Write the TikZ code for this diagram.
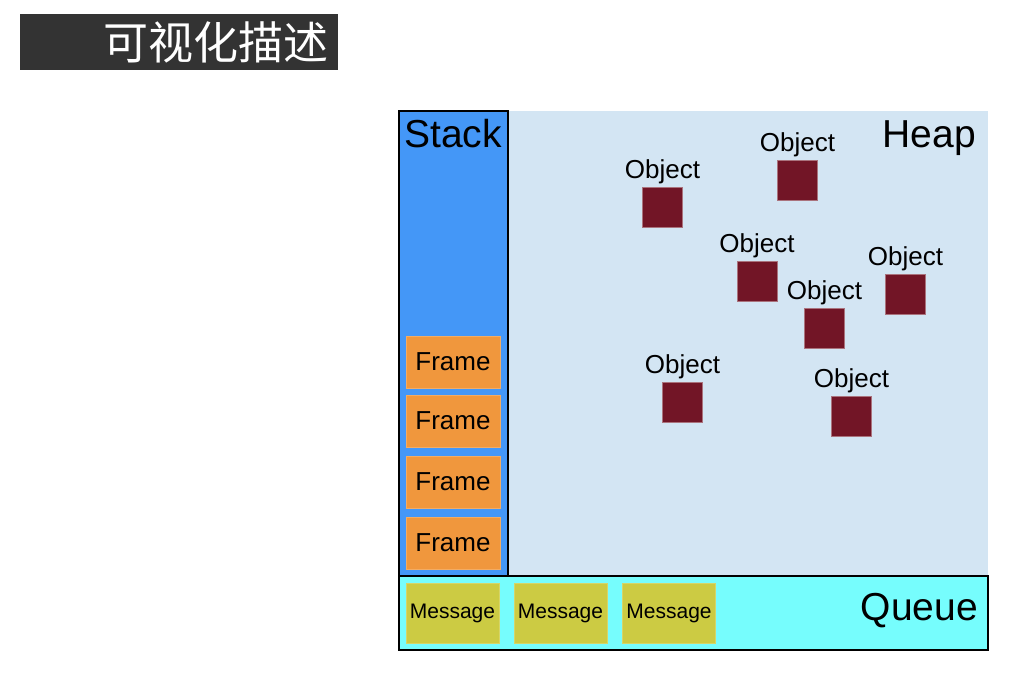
\documentclass[tikz,border=0pt]{standalone}
\usepackage{fontspec}
\setmainfont{Liberation Sans}
\newfontfamily\cjk{Noto Sans CJK SC}
\definecolor{titlebg}{HTML}{333333}
\definecolor{stackblue}{HTML}{4497F7}
\definecolor{heapblue}{HTML}{D3E5F3}
\definecolor{queuecyan}{HTML}{76FDFD}
\definecolor{framefill}{HTML}{F0973D}
\definecolor{msgfill}{HTML}{CCCB43}
\definecolor{objfill}{HTML}{721526}
\tikzset{
  area/.style={draw=black, line width=2pt},
  framebox/.style={fill=framefill, draw=framefill!80!white, line width=0.5pt, minimum width=94pt, minimum height=52pt, inner sep=0pt, font=\fontsize{26}{30}\selectfont},
  msgbox/.style={fill=msgfill, draw=msgfill!80!white, line width=0.5pt, minimum width=93pt, minimum height=60pt, inner sep=0pt, font=\fontsize{21}{25}\selectfont},
  objbox/.style={fill=objfill, draw=objfill!60!white, line width=0.6pt, minimum width=40pt, minimum height=40pt, inner sep=0pt},
  objlabel/.style={anchor=south, inner sep=0pt, yshift=3pt, font=\fontsize{26}{30}\selectfont},
  bigtext/.style={inner sep=0pt, font=\fontsize{39}{46}\selectfont}
}
\begin{document}
\begin{tikzpicture}[x=1pt, y=-1pt]
\useasboundingbox (0,0) rectangle (1032,676);
% title
\node[fill=titlebg, minimum width=318pt, minimum height=56pt, inner sep=0pt, anchor=north west] (titlebox) at (20,14) {};
\node[text=white, inner sep=0pt, font=\cjk\fontsize{45}{50}\selectfont] (title) at (216,42) {可视化描述};
% heap
\fill[heapblue] (508,111) rectangle (988,576);
\node[coordinate] (heap) at (748,343) {};
% stack
\draw[area, fill=stackblue] (399,111) rectangle (508,576);
\node[bigtext] (stacklabel) at (453,134) {Stack};
\node[bigtext, anchor=east] (heaplabel) at (976,138) {Heap};
% queue
\draw[area, fill=queuecyan] (399,576) rectangle (988,650);
\node[bigtext, anchor=east] (queuelabel) at (978,611) {Queue};
% frames
\node[framebox] (f1) at (453,362) {Frame};
\node[framebox] (f2) at (453,421) {Frame};
\node[framebox] (f3) at (453,482) {Frame};
\node[framebox] (f4) at (453,543) {Frame};
% messages
\node[msgbox] (m1) at (452.5,613) {Message};
\node[msgbox] (m2) at (560.5,613) {Message};
\node[msgbox] (m3) at (669,613) {Message};
% objects
\node[objbox] (o1) at (662.5,207) {};
\node[objlabel] (l1) at (o1.north) {Object};
\node[objbox] (o2) at (797.5,180) {};
\node[objlabel] (l2) at (o2.north) {Object};
\node[objbox] (o3) at (757,281.5) {};
\node[objlabel] (l3) at (o3.north) {Object};
\node[objbox] (o4) at (905.5,294.5) {};
\node[objlabel] (l4) at (o4.north) {Object};
\node[objbox] (o5) at (824.5,328.5) {};
\node[objlabel] (l5) at (o5.north) {Object};
\node[objbox] (o6) at (682.5,402.5) {};
\node[objlabel] (l6) at (o6.north) {Object};
\node[objbox] (o7) at (851.5,416) {};
\node[objlabel] (l7) at (o7.north) {Object};
\end{tikzpicture}
\end{document}
